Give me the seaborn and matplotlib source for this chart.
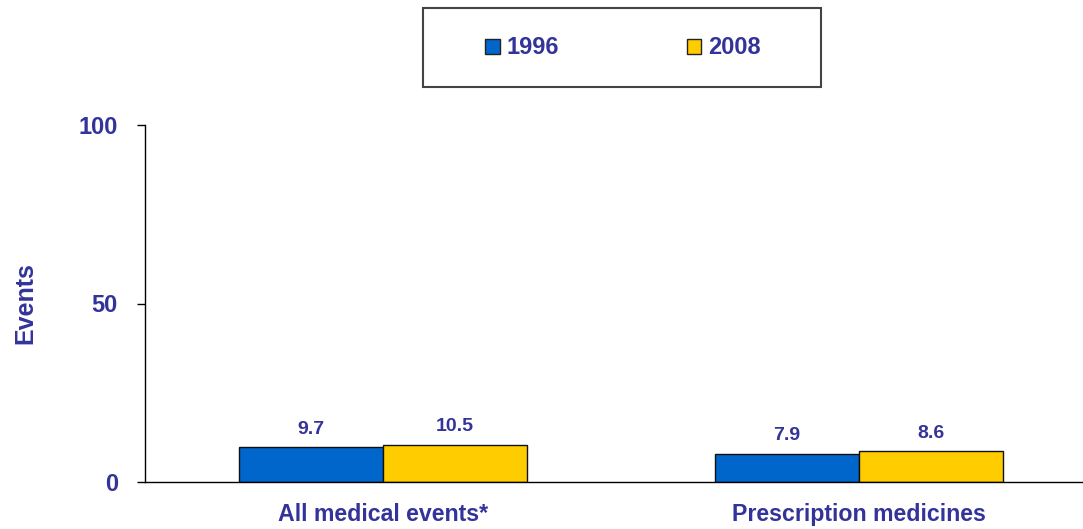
import matplotlib
matplotlib.use("Agg")
import matplotlib.pyplot as plt
import seaborn as sns
import pandas as pd
from matplotlib.patches import Patch, Rectangle

categories = ["All medical events*", "Prescription medicines"]
years = ["1996", "2008"]
values_1996 = [9.7, 7.9]
values_2008 = [10.5, 8.6]
colors = ["#0066CC", "#FFCC00"]
text_color = "#333399"

df = pd.DataFrame({
    "category": categories * 2,
    "year": [years[0]] * 2 + [years[1]] * 2,
    "value": values_1996 + values_2008,
})

sns.set_style("white")
plt.rcParams["font.family"] = ["Liberation Sans", "DejaVu Sans"]
plt.rcParams["font.weight"] = "bold"

fig = plt.figure(figsize=(10.83, 5.29), dpi=100)
ax = fig.add_axes([145 / 1083, 47 / 529, 952 / 1083, 357 / 529])

sns.barplot(data=df, x="category", y="value", hue="year", palette=colors,
            width=0.606, edgecolor="#111111", linewidth=1.0, ax=ax, legend=False,
            saturation=1)

for cont in ax.containers:
    ax.bar_label(cont, fmt="%.1f", padding=7, color=text_color,
                 fontsize=14, fontweight="bold")

ax.set_xlim(-0.5, 1.5)
ax.set_ylim(0, 100)
ax.set_yticks([0, 50, 100])
ax.set_yticklabels(["0", "50", "100"], color=text_color, fontsize=17,
                   fontweight="bold")
ax.set_xticks([0, 1])
ax.set_xticklabels(categories, color=text_color, fontsize=16.7,
                   fontweight="bold")
ax.set_xticks([-0.5, 0.5], minor=True)
ax.tick_params(axis="x", which="major", length=0, pad=15)
ax.tick_params(axis="x", which="minor", length=6, direction="out",
               color="black", width=1)
ax.tick_params(axis="y", length=6, direction="out", color="black", width=1,
               left=True, pad=13.5)
ax.set_xlabel("")
ax.set_ylabel("Events", color=text_color, fontsize=18, fontweight="bold",
              labelpad=30)
for s in ["top", "right"]:
    ax.spines[s].set_visible(False)
for s in ["left", "bottom"]:
    ax.spines[s].set_color("black")
    ax.spines[s].set_linewidth(1.0)

# legend box
box = Rectangle((423 / 1083, 1 - 87 / 529), 398 / 1083, 79 / 529,
                transform=fig.transFigure, facecolor="white",
                edgecolor="#444444", linewidth=1.5)
fig.patches.append(box)

handles = [Patch(facecolor=c, edgecolor="#222222", linewidth=1.0) for c in colors]
leg = fig.legend(handles, years, loc="center",
                 bbox_to_anchor=(623 / 1083, 1 - 48 / 529),
                 ncol=2, frameon=False,
                 handlelength=0.6, handleheight=0.6, handletextpad=0.3,
                 columnspacing=5.4, borderpad=0, borderaxespad=0,
                 prop={"size": 17, "weight": "bold"})
for t in leg.get_texts():
    t.set_color(text_color)

fig.savefig("out.png", dpi=100)
